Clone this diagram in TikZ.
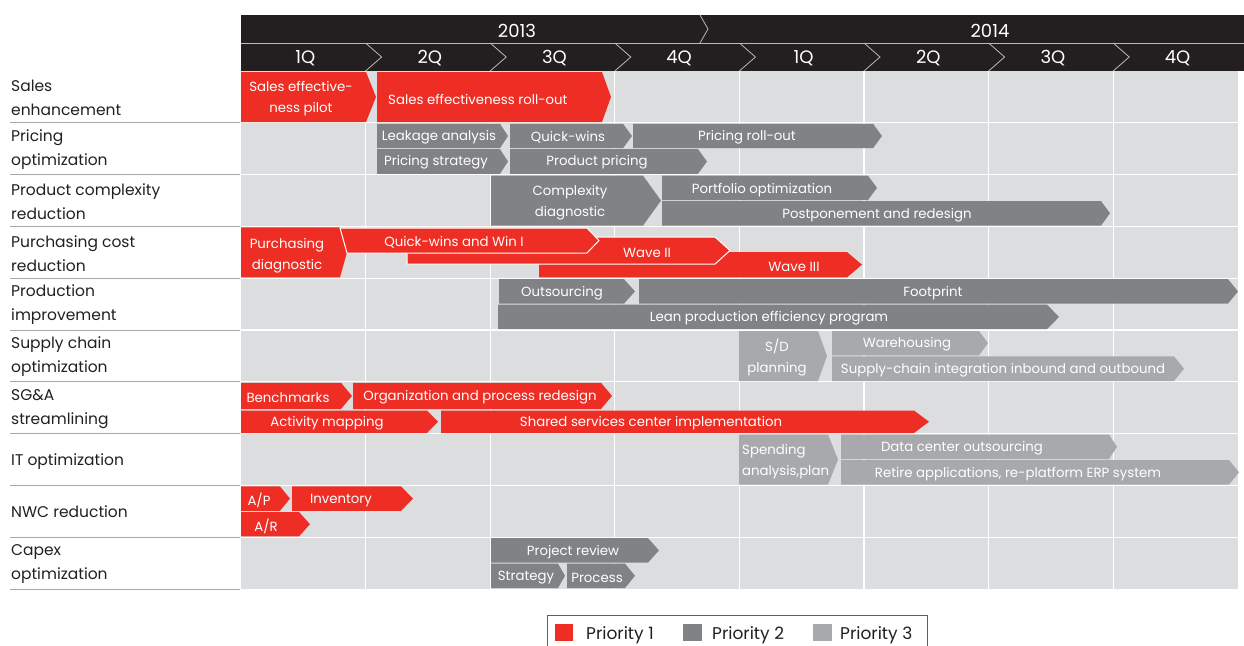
\documentclass[tikz,border=0pt]{standalone}
\usepackage{fontspec}
\setmainfont{Poppins}
\usetikzlibrary{calc}

\definecolor{prioone}{HTML}{EE2E24}
\definecolor{priotwo}{HTML}{808285}
\definecolor{priothree}{HTML}{A7A9AC}
\definecolor{gridbg}{HTML}{DCDDDF}
\definecolor{headbg}{HTML}{231F20}
\definecolor{sepgray}{HTML}{A9A9A9}
\definecolor{labelink}{HTML}{231F20}

\newcommand{\barfont}{\fontsize{13.3}{21}\selectfont}
\newcommand{\labfont}{\fontsize{15.5}{24}\selectfont}
\newcommand{\legfont}{\fontsize{17}{20}\selectfont}
\newcommand{\headfont}{\fontsize{18}{20}\selectfont}

% chevron bar: [tip depth]{style}{left x}{tip x}{top y}{bottom y}
\newcommand{\chevbar}[6][9]{%
  \path[#2] (#3,#5) -- ({#4-#1},#5) -- (#4,{(#5+#6)/2}) -- ({#4-#1},#6) -- (#3,#6) -- cycle;}

\tikzset{
  prio1/.style={fill=prioone},
  prio2/.style={fill=priotwo},
  prio3/.style={fill=priothree},
  whiteedge/.style={draw=white, line width=1pt},
  bartext/.style={text=white, font=\barfont, inner sep=0pt, align=center, yshift=-1.5pt},
  rowlabel/.style={anchor=west, align=left, font=\labfont, inner sep=0pt, text=labelink, yshift=-1pt},
  headtext/.style={text=white, font=\headfont, inner sep=0pt, yshift=-1pt},
  legtext/.style={anchor=west, font=\legfont, inner sep=0pt, text=labelink, yshift=-1pt},
  chevline/.style={draw=gray!55, line width=0.8pt},
}

\begin{document}
\begin{tikzpicture}[x=1pt, y=-1pt]
    \useasboundingbox (0,0) rectangle (1244,645);

    % grid
    \fill[gridbg] (241,71) rectangle (1238,589);
    \foreach \q in {1,...,7}
        \draw[white, line width=1.2pt] ({241+124.6*\q},71) -- ({241+124.6*\q},589);
    \foreach \r in {1,...,9}
        \draw[white, line width=1.2pt] (241,{71+51.8*\r}) -- (1238,{71+51.8*\r});
    \foreach \r in {1,...,10}
        \draw[sepgray, line width=1pt] (10,{71+51.8*\r}) -- (240,{71+51.8*\r});

    % header
    \fill[headbg] (241,15) rectangle (1244,71);
    \draw[chevline] (241,43) -- (1244,43);
    \draw[chevline] (700,15) -- (708,29) -- (700,43);
    \foreach \q in {1,...,7}
        \draw[chevline] ({241+124.6*\q},43) -- ({257+124.6*\q},57) -- ({241+124.6*\q},71);
    \node[headtext] (y2013) at (517,30) {2013};
    \node[headtext] (y2014) at (990,30) {2014};
    \foreach \lbl [count=\i] in {1Q,2Q,3Q,4Q,1Q,2Q,3Q,4Q}
        \node[headtext] (q\i) at ({241+124.6*(\i-0.5)+2},57) {\lbl};

    % row labels
    \node[rowlabel] (lsales) at (11,97) {Sales\\enhancement};
    \node[rowlabel] (lpricing) at (11,149) {Pricing\\optimization};
    \node[rowlabel] (lproduct) at (11,201) {Product complexity\\reduction};
    \node[rowlabel] (lpurch) at (11,253) {Purchasing cost\\reduction};
    \node[rowlabel] (lprod) at (11,304) {Production\\improvement};
    \node[rowlabel] (lsupply) at (11,356) {Supply chain\\optimization};
    \node[rowlabel] (lsga) at (11,408) {SG\&A\\streamlining};
    \node[rowlabel] (lit) at (11,461) {IT optimization};
    \node[rowlabel] (lnwc) at (11,511) {NWC reduction};
    \node[rowlabel] (lcapex) at (11,563) {Capex\\optimization};

    % sales enhancement
    \chevbar[10]{prio1}{241}{376}{72}{122}
    \chevbar[9]{prio1}{377}{611}{72}{122}
    \node[bartext] (salespilot) at (301,97) {Sales effective-\\ness pilot};
    \node[bartext, anchor=west] (salesroll) at (388,98) {Sales effectiveness roll-out};

    % pricing
    \chevbar[8]{prio2}{377}{508}{123.8}{148.2}
    \chevbar[9]{prio2}{510}{632}{123.8}{148.2}
    \chevbar[9]{prio2}{633}{882}{123.8}{148.2}
    \chevbar[8]{prio2}{377}{508}{149.2}{173.8}
    \chevbar[9]{prio2}{510}{707}{149.2}{173.8}
    \node[bartext] (leakage) at (439,136) {Leakage analysis};
    \node[bartext] (pquick) at (568,136) {Quick-wins};
    \node[bartext] (proll) at (747,136) {Pricing roll-out};
    \node[bartext] (pstrat) at (436,161) {Pricing strategy};
    \node[bartext] (pprod) at (597,161) {Product pricing};

    % product complexity
    \chevbar[18]{prio2}{491}{661}{175.6}{225.6}
    \chevbar[9]{prio2}{662}{877}{175.6}{200}
    \chevbar[9]{prio2}{662}{1110}{201}{225.6}
    \node[bartext] (cdiag) at (570,201) {Complexity\\diagnostic};
    \node[bartext] (portf) at (762,189) {Portfolio optimization};
    \node[bartext] (postp) at (877,214) {Postponement and redesign};

    % purchasing
    \chevbar[7]{prio1}{241}{347}{227.4}{277.4}
    \chevbar[15]{prio1}{539}{862}{252}{277.4}
    \chevbar[15]{prio1,whiteedge}{407}{730}{237}{264}
    \path[prio1,whiteedge] (340,228) -- (587,228) -- (599,240.5) -- (587,253) -- (347,253) -- cycle;
    \node[bartext] (pdiag) at (287,254) {Purchasing\\diagnostic};
    \node[bartext] (wave1) at (454,241) {Quick-wins and Win I};
    \node[bartext] (wave2) at (647,251) {Wave II};
    \node[bartext] (wave3) at (794,265) {Wave III};

    % production
    \chevbar[11]{prio2}{499}{635}{279.2}{303.6}
    \chevbar[10]{prio2}{639}{1238}{279.2}{303.6}
    \chevbar[12]{prio2}{498}{1059}{304.6}{329.2}
    \node[bartext] (outs) at (562,292) {Outsourcing};
    \node[bartext] (footp) at (933,292) {Footprint};
    \node[bartext] (lean) at (769,317) {Lean production efficiency program};

    % supply chain
    \chevbar[9]{prio3}{739}{827}{331}{381}
    \chevbar[9]{prio3}{832}{988}{331}{355.4}
    \chevbar[10]{prio3}{832}{1184}{356.4}{381}
    \node[bartext] (sdplan) at (777,356) {S/D\\planning};
    \node[bartext] (wareh) at (907,343) {Warehousing};
    \node[bartext] (scint) at (1003,369) {Supply-chain integration inbound and outbound};

    % SG&A
    \chevbar[11]{prio1}{241}{352}{382.8}{409}
    \chevbar[11]{prio1}{353}{612}{382.8}{409}
    \chevbar[11]{prio1}{241}{438}{410.5}{433}
    \chevbar[15]{prio1}{441}{929}{410.5}{433}
    \node[bartext] (bench) at (288,396) {Benchmarks};
    \node[bartext] (orgred) at (480,396) {Organization and process redesign};
    \node[bartext] (actmap) at (327,422) {Activity mapping};
    \node[bartext] (shared) at (651,422) {Shared services center implementation};

    % IT
    \chevbar[10]{prio3}{739}{838}{434.6}{484.6}
    \chevbar[8]{prio3}{841}{1117}{434.6}{459}
    \chevbar[10]{prio3}{841}{1239}{460}{484.6}
    \node[bartext, anchor=west, align=left] (spend) at (742,460) {Spending\\analysis,plan};
    \node[bartext] (datac) at (962,447) {Data center outsourcing};
    \node[bartext] (retire) at (1018,473) {Retire applications, re-platform ERP system};

    % NWC
    \chevbar[10]{prio1}{241}{290}{486.4}{510.8}
    \chevbar[12]{prio1}{292}{413}{486.4}{510.8}
    \chevbar[11]{prio1}{241}{310}{512}{536.4}
    \node[bartext] (ap) at (259,499) {A/P};
    \node[bartext] (invent) at (341,499) {Inventory};
    \node[bartext] (ar) at (266,525) {A/R};

    % capex
    \chevbar[11]{prio2}{491}{659}{538.2}{562.6}
    \chevbar[7]{prio2}{491}{565}{563.6}{588}
    \chevbar[10]{prio2}{567}{635}{563.6}{588}
    \node[bartext] (projrev) at (573,551) {Project review};
    \node[bartext] (strat) at (526,576) {Strategy};
    \node[bartext] (proc) at (597,576) {Process};

    % legend
    \draw[gray!75!black, line width=1pt] (547,615) rectangle (927,655);
    \fill[prioone] (555,624) rectangle (573,641);
    \fill[priotwo] (683,624) rectangle (702,641);
    \fill[priothree] (813,624) rectangle (832,641);
    \node[legtext] (leg1) at (586,634) {Priority 1};
    \node[legtext] (leg2) at (712,634) {Priority 2};
    \node[legtext] (leg3) at (840,634) {Priority 3};
\end{tikzpicture}
\end{document}
